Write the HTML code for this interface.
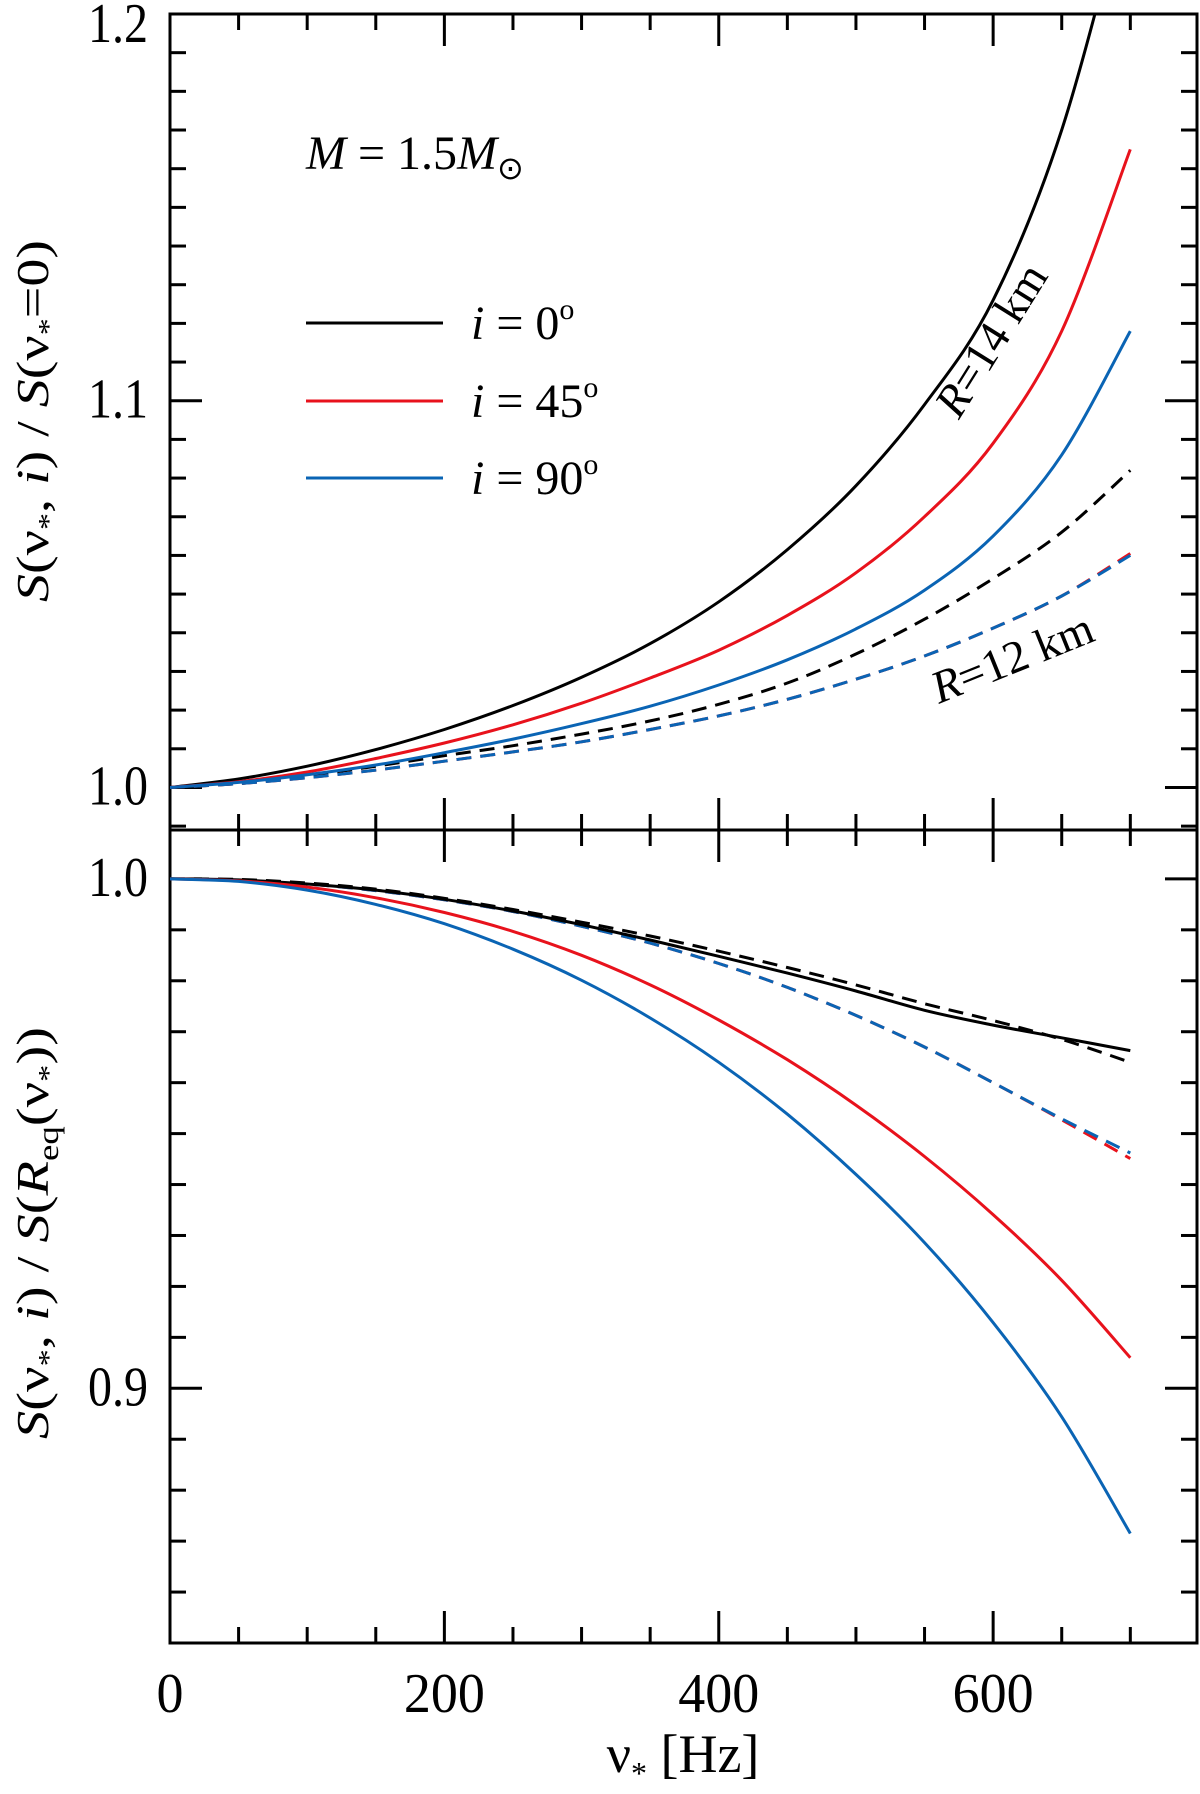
<!DOCTYPE html>
<html><head><meta charset="utf-8"><style>
html,body{margin:0;padding:0;background:#fff;}
svg{display:block;font-family:"Liberation Serif",serif;}
</style></head><body>
<svg id="chart" width="1200" height="1794" viewBox="0 0 1200 1794" xmlns="http://www.w3.org/2000/svg">
<g id="axes"></g>
<g id="series"></g>
<g id="labels">
  <text transform="translate(48,421) rotate(-90)" text-anchor="middle" font-size="46" textLength="362" lengthAdjust="spacingAndGlyphs"><tspan font-style="italic">S</tspan>(ν<tspan font-size="28" dy="10">*</tspan><tspan dy="-10">, </tspan><tspan font-style="italic">i</tspan>) / <tspan font-style="italic">S</tspan>(ν<tspan font-size="28" dy="10">*</tspan><tspan dy="-10">=0)</tspan></text>
  <text transform="translate(48,1233) rotate(-90)" text-anchor="middle" font-size="46" textLength="412" lengthAdjust="spacingAndGlyphs"><tspan font-style="italic">S</tspan>(ν<tspan font-size="28" dy="10">*</tspan><tspan dy="-10">, </tspan><tspan font-style="italic">i</tspan>) / <tspan font-style="italic">S</tspan>(<tspan font-style="italic">R</tspan><tspan font-size="30" dy="10">eq</tspan><tspan dy="-10">(ν</tspan><tspan font-size="28" dy="10">*</tspan><tspan dy="-10">))</tspan></text>
  <text x="683" y="1772" text-anchor="middle" font-size="54">ν<tspan font-size="32" dy="12">*</tspan><tspan dy="-12"> [Hz]</tspan></text>
  <text x="306" y="169" font-size="48"><tspan font-style="italic">M</tspan> = 1.5<tspan font-style="italic">M</tspan><tspan font-size="32" dy="10">⊙</tspan></text>
  <text transform="translate(1004,348) rotate(-58)" text-anchor="middle" font-size="46"><tspan font-style="italic">R</tspan>=14 km</text>
  <text transform="translate(1018,672) rotate(-22)" text-anchor="middle" font-size="46"><tspan font-style="italic">R</tspan>=12 km</text>
  <g>
    <line x1="306" y1="323" x2="443" y2="323" stroke="#000" stroke-width="3"/>
    <text x="471" y="339" font-size="48"><tspan font-style="italic">i</tspan> = 0<tspan font-size="30" dy="-20">o</tspan></text>
    <line x1="306" y1="401" x2="443" y2="401" stroke="#e8121c" stroke-width="3"/>
    <text x="471" y="417" font-size="48"><tspan font-style="italic">i</tspan> = 45<tspan font-size="30" dy="-20">o</tspan></text>
    <line x1="306" y1="478" x2="443" y2="478" stroke="#0a64b4" stroke-width="3"/>
    <text x="471" y="494" font-size="48"><tspan font-style="italic">i</tspan> = 90<tspan font-size="30" dy="-20">o</tspan></text>
  </g>
</g>
</svg>
<script>
const freqs = [0,50,100,150,200,250,300,350,400,450,500,550,600,650,700];
const topBlackSolid = [1.0,1.0022,1.0055,1.0098,1.015,1.0212,1.0285,1.0372,1.048,1.0615,1.078,1.099,1.126,1.170,1.235];
const topRedSolid = [1.0,1.0015,1.004,1.0075,1.0115,1.0162,1.0218,1.0283,1.0355,1.0445,1.0555,1.070,1.089,1.118,1.165];
const topBlueSolid = [1.0,1.0013,1.0033,1.0058,1.009,1.0125,1.0165,1.021,1.0265,1.033,1.041,1.051,1.065,1.086,1.118];
const topBlackDashed = [1.0,1.001,1.003,1.0055,1.0082,1.0108,1.0138,1.0172,1.0215,1.027,1.0345,1.0435,1.054,1.066,1.082];
const topRedDashed = [1.0,1.001,1.0025,1.0045,1.0068,1.0092,1.0118,1.015,1.0185,1.0228,1.028,1.034,1.0412,1.0495,1.0605];
const topBlueDashed = [1.0,1.001,1.0025,1.0045,1.0068,1.0092,1.0118,1.015,1.0185,1.0228,1.028,1.034,1.0412,1.0495,1.060];
const botBlackSolid = [1.0,0.9998,0.999,0.9978,0.996,0.9937,0.991,0.988,0.9848,0.9815,0.978,0.9742,0.9713,0.9688,0.9663];
const botBlackDashed = [1.0,0.9999,0.9992,0.998,0.9962,0.994,0.9915,0.9888,0.9858,0.9826,0.9792,0.9755,0.9722,0.9685,0.964];
const botRedSolid = [1.0,0.9996,0.9984,0.9963,0.9934,0.9897,0.985,0.9792,0.9723,0.9645,0.9556,0.9455,0.9341,0.9212,0.906];
const botBlueSolid = [1.0,0.9995,0.9978,0.995,0.9912,0.9862,0.9801,0.9727,0.964,0.9538,0.942,0.9286,0.9129,0.8944,0.8715];
const botRedDashed = [1.0,0.9998,0.999,0.9977,0.9959,0.9936,0.9907,0.9874,0.9834,0.9787,0.9732,0.967,0.960,0.9527,0.9451];
const botBlueDashed = [1.0,0.9998,0.999,0.9977,0.9959,0.9936,0.9907,0.9874,0.9834,0.9787,0.9732,0.967,0.960,0.9529,0.9462];
const xTickLabels = ["0","200","400","600"];
const topYTickLabels = ["1.0","1.1","1.2"];
const botYTickLabels = ["0.9","1.0"];

const NS = "http://www.w3.org/2000/svg";
const L = 170, R = 1197, TOP = 14, MID = 830, BOT = 1643;
const xMin = 0, xMax = 748.6;
const tMin = 0.989, tMax = 1.2;
const bMin = 0.85, bMax = 1.0096;
function sx(v){ return L + (v - xMin) / (xMax - xMin) * (R - L); }
function syTop(v){ return MID - (v - tMin) / (tMax - tMin) * (MID - TOP); }
function syBot(v){ return BOT - (v - bMin) / (bMax - bMin) * (BOT - MID); }

const axes = document.getElementById('axes');
const series = document.getElementById('series');
const labels = document.getElementById('labels');
function line(g, x1,y1,x2,y2, name){
  const l = document.createElementNS(NS,'line');
  l.setAttribute('x1',x1); l.setAttribute('y1',y1); l.setAttribute('x2',x2); l.setAttribute('y2',y2);
  l.setAttribute('stroke','#000'); l.setAttribute('stroke-width','3');
  
  
  g.appendChild(l);
}
function text(x,y,s,size,anchor,tl,name){
  const t = document.createElementNS(NS,'text');
  t.setAttribute('x',x); t.setAttribute('y',y); t.setAttribute('font-size',size);
  t.setAttribute('text-anchor',anchor);
  if (tl) { t.setAttribute('textLength', tl); t.setAttribute('lengthAdjust','spacingAndGlyphs'); }
  t.textContent = s;
  
  
  labels.appendChild(t);
}
const fr = document.createElementNS(NS,'path');
fr.setAttribute('d',`M${L},${TOP}H${R}V${BOT}H${L}Z M${L},${MID}H${R}`);
fr.setAttribute('fill','none'); fr.setAttribute('stroke','#000'); fr.setAttribute('stroke-width','3');


axes.appendChild(fr);
for (let v = 50; v <= 700; v += 50) {
  const x = sx(v); const major = v % 200 === 0; const len = major ? 32 : 16;
  line(axes, x, TOP, x, TOP + len, 'x-tick-top');
  line(axes, x, MID - len, x, MID + len, 'x-tick-mid');
  line(axes, x, BOT - len, x, BOT, 'x-tick-bottom');
}
xTickLabels.forEach(s => { const v = parseFloat(s); text(sx(v), 1712, s, 56, 'middle', s.length*27, 'x-tick-label'); });
for (let k = 99; k <= 120; k++) {
  const v = k / 100; const y = syTop(v); const major = k % 10 === 0; const len = major ? 32 : 16;
  if (y < TOP + 1 || y > MID - 1) continue;
  line(axes, L, y, L + len, y, 'top-y-tick-left');
  line(axes, R - len, y, R, y, 'top-y-tick-right');
}
topYTickLabels.forEach(s => { const v = parseFloat(s); text(148, Math.max(syTop(v) + 17, 42), s, 56, 'end', 60, 'top-y-tick-label'); });
for (let k = 85; k <= 101; k++) {
  const v = k / 100; const y = syBot(v); const major = k % 10 === 0; const len = major ? 32 : 16;
  if (y < MID + 1 || y > BOT - 1) continue;
  line(axes, L, y, L + len, y, 'bottom-y-tick-left');
  line(axes, R - len, y, R, y, 'bottom-y-tick-right');
}
botYTickLabels.forEach(s => { const v = parseFloat(s); text(148, syBot(v) + 17, s, 56, 'end', 60, 'bottom-y-tick-label'); });

const defs = document.createElementNS(NS,'defs');
defs.innerHTML = `<clipPath id="clipTop"><rect x="${L}" y="${TOP}" width="${R-L}" height="${MID-TOP}"/></clipPath><clipPath id="clipBot"><rect x="${L}" y="${MID}" width="${R-L}" height="${BOT-MID}"/></clipPath>`;
document.getElementById('chart').insertBefore(defs, axes);

function smoothPath(pts){
  let d = `M${pts[0][0].toFixed(1)},${pts[0][1].toFixed(1)}`;
  for (let i = 0; i < pts.length - 1; i++) {
    const p0 = pts[Math.max(i-1,0)], p1 = pts[i], p2 = pts[i+1], p3 = pts[Math.min(i+2,pts.length-1)];
    const c1x = p1[0] + (p2[0]-p0[0])/6, c1y = p1[1] + (p2[1]-p0[1])/6;
    const c2x = p2[0] - (p3[0]-p1[0])/6, c2y = p2[1] - (p3[1]-p1[1])/6;
    d += `C${c1x.toFixed(1)},${c1y.toFixed(1)} ${c2x.toFixed(1)},${c2y.toFixed(1)} ${p2[0].toFixed(1)},${p2[1].toFixed(1)}`;
  }
  return d;
}
function drawSeries(vals, syf, color, dashed, clip, name){
  const p = document.createElementNS(NS,'path');
  p.setAttribute('d', smoothPath(vals.map((v,i) => [sx(freqs[i]), syf(v)])));
  p.setAttribute('fill','none'); p.setAttribute('stroke',color); p.setAttribute('stroke-width','3');
  if (dashed) p.setAttribute('stroke-dasharray','15 9');
  p.setAttribute('clip-path', `url(#${clip})`);
  
  
  series.appendChild(p);
}
const RED = '#e8121c', BLUE = '#0a64b4';
drawSeries(topBlackDashed, syTop, '#000', true, 'clipTop', 'top-r12-i0');
drawSeries(topRedDashed, syTop, RED, true, 'clipTop', 'top-r12-i45');
drawSeries(topBlueDashed, syTop, BLUE, true, 'clipTop', 'top-r12-i90');
drawSeries(topBlackSolid, syTop, '#000', false, 'clipTop', 'top-r14-i0');
drawSeries(topRedSolid, syTop, RED, false, 'clipTop', 'top-r14-i45');
drawSeries(topBlueSolid, syTop, BLUE, false, 'clipTop', 'top-r14-i90');
drawSeries(botRedDashed, syBot, RED, true, 'clipBot', 'bottom-r12-i45');
drawSeries(botBlueDashed, syBot, BLUE, true, 'clipBot', 'bottom-r12-i90');
drawSeries(botBlackDashed, syBot, '#000', true, 'clipBot', 'bottom-r12-i0');
drawSeries(botBlackSolid, syBot, '#000', false, 'clipBot', 'bottom-r14-i0');
drawSeries(botRedSolid, syBot, RED, false, 'clipBot', 'bottom-r14-i45');
drawSeries(botBlueSolid, syBot, BLUE, false, 'clipBot', 'bottom-r14-i90');
</script>
</body></html>
